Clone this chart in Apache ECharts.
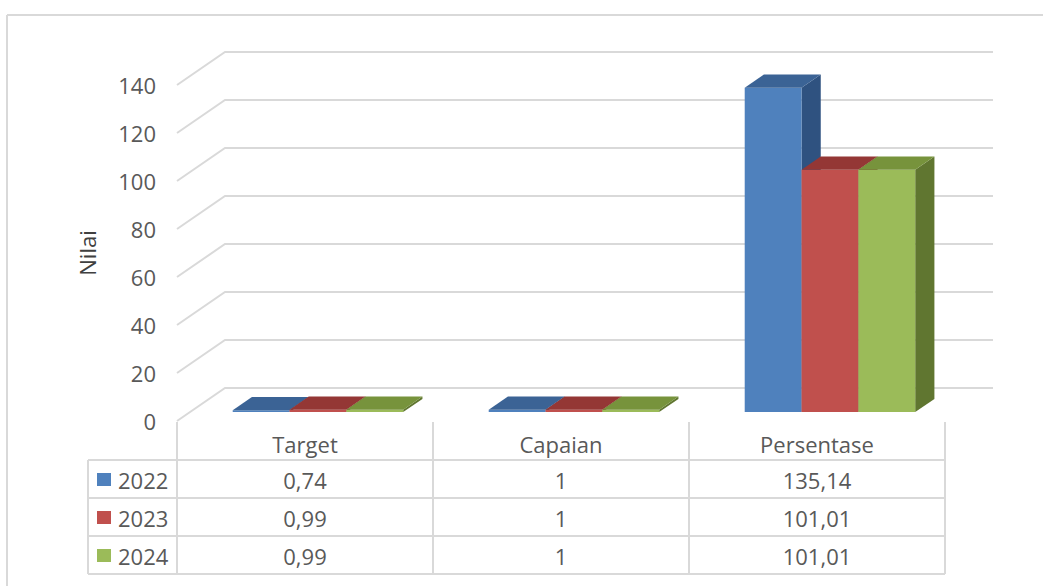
<!DOCTYPE html>
<html>
<head>
<meta charset="utf-8">
<style>
  html, body { margin: 0; padding: 0; background: #fff; }
  #chart { width: 1043px; height: 586px; }
</style>
<script src="https://cdn.jsdelivr.net/npm/echarts@6/dist/echarts.min.js"></script>
</head>
<body>
<div id="chart"></div>
<script>
// data
const categories = ['Target', 'Capaian', 'Persentase'];
const years = ['2022', '2023', '2024'];
const values2022 = [0.74, 1, 135.14];
const values2023 = [0.99, 1, 101.01];
const values2024 = [0.99, 1, 101.01];
const yTicks = [0, 20, 40, 60, 80, 100, 120, 140];

const seriesValues = [values2022, values2023, values2024];
const faceColors = [
  { front: '#4f81bd', top: '#3b6395', side: '#2f5280' },
  { front: '#c0504d', top: '#943735', side: '#7a2c2a' },
  { front: '#9bbb59', top: '#77933c', side: '#607630' }
];

const FONT = '"Open Sans", "Noto Sans", sans-serif';
const TEXT = '#595959';
const LINE = '#d9d9d9';
// oblique depth of the plot floor
const DEPTH_X = 48;
const DEPTH_Y = -33;
const BAR_FRONT = 0.27;
const BAR_BACK = 0.67;

const fmt = v => String(v).replace('.', ',');

const chart = echarts.init(document.getElementById('chart'), null, { renderer: 'svg' });

const renderGrid = (params, api) => {
  const y = api.coord([0, api.value(1)])[1];
  const cs = params.coordSys;
  return {
    type: 'polyline',
    shape: { points: [[cs.x, y], [cs.x + DEPTH_X, y + DEPTH_Y], [cs.x + cs.width + DEPTH_X, y + DEPTH_Y]] },
    style: { stroke: LINE, lineWidth: 2, fill: null },
    silent: true
  };
};

const renderBar = s => (params, api) => {
  const cat = api.value(0);
  const base = api.coord([cat, 0]);
  const top = api.coord([cat, api.value(1)]);
  const band = api.size([1, 0])[0];
  const bw = band * 0.222;
  const cx = base[0] + (s - 1) * bw;
  const ox = DEPTH_X * BAR_FRONT, oy = DEPTH_Y * BAR_FRONT;
  const dx = DEPTH_X * (BAR_BACK - BAR_FRONT), dy = DEPTH_Y * (BAR_BACK - BAR_FRONT);
  const xl = cx - bw / 2 + ox, xr = cx + bw / 2 + ox;
  const yt = top[1] + oy, yb = base[1] + oy;
  const c = faceColors[s];
  return {
    type: 'group',
    children: [
      { type: 'polygon', shape: { points: [[xr, yt], [xr + dx, yt + dy], [xr + dx, yb + dy], [xr, yb]] }, style: { fill: c.side } },
      { type: 'rect', shape: { x: xl, y: yt, width: xr - xl, height: yb - yt }, style: { fill: c.front } },
      { type: 'polygon', shape: { points: [[xl, yt], [xl + dx, yt + dy], [xr + dx, yt + dy], [xr, yt]] }, style: { fill: c.top } }
    ]
  };
};

// data table under the plot, one column per category
const ROW_TOP = 460;
const ROW_H = 38;
const renderTable = (params, api) => {
  const cat = api.value(0);
  const cx = api.coord([cat, 0])[0];
  const band = api.size([1, 0])[0];
  const right = cx + band / 2;
  const children = [
    { type: 'text', style: { x: cx, y: 444, text: categories[cat], fill: TEXT, font: '22px ' + FONT, align: 'center', verticalAlign: 'middle' } },
    { type: 'line', shape: { x1: right, y1: 422, x2: right, y2: ROW_TOP + ROW_H * 3 }, style: { stroke: LINE, lineWidth: 2 } }
  ];
  if (cat === 0) {
    const left = cx - band / 2;
    children.push({ type: 'line', shape: { x1: left, y1: 422, x2: left, y2: ROW_TOP + ROW_H * 3 }, style: { stroke: LINE, lineWidth: 2 } });
  }
  seriesValues.forEach((vals, r) => {
    children.push({
      type: 'text',
      style: { x: cx, y: ROW_TOP + ROW_H * r + ROW_H / 2 + 1, text: fmt(vals[cat]), fill: TEXT, font: '22px ' + FONT, align: 'center', verticalAlign: 'middle' }
    });
  });
  return { type: 'group', children };
};

const graphics = [
  { type: 'line', shape: { x1: 7, y1: 15, x2: 1043, y2: 15 }, style: { stroke: LINE, lineWidth: 2 } },
  { type: 'line', shape: { x1: 7, y1: 15, x2: 7, y2: 586 }, style: { stroke: LINE, lineWidth: 2 } },
  { type: 'line', shape: { x1: 88, y1: ROW_TOP, x2: 88, y2: ROW_TOP + ROW_H * 3 }, style: { stroke: LINE, lineWidth: 2 } },
  {
    type: 'text', x: 87, y: 253, rotation: Math.PI / 2,
    style: { text: 'Nilai', fill: '#404040', font: '22px ' + FONT, align: 'center', verticalAlign: 'middle' }
  }
];
for (let r = 0; r <= 3; r++) {
  graphics.push({ type: 'line', shape: { x1: 88, y1: ROW_TOP + ROW_H * r, x2: 945, y2: ROW_TOP + ROW_H * r }, style: { stroke: LINE, lineWidth: 2 } });
}
years.forEach((yr, r) => {
  const cy = ROW_TOP + ROW_H * r + ROW_H / 2;
  graphics.push({ type: 'rect', shape: { x: 97, y: cy - 6, width: 14, height: 13 }, style: { fill: faceColors[r].front } });
  graphics.push({ type: 'text', style: { x: 118, y: cy + 1, text: yr, fill: TEXT, font: '22px ' + FONT, verticalAlign: 'middle' } });
});

const option = {
  animation: false,
  grid: { left: 177, width: 768, top: 85, bottom: 165 },
  xAxis: {
    type: 'category',
    data: categories,
    axisLine: { show: false },
    axisTick: { show: false },
    axisLabel: { show: false }
  },
  yAxis: {
    type: 'value',
    min: 0,
    max: 140,
    interval: 20,
    axisLine: { show: false },
    axisTick: { show: false },
    splitLine: { show: false },
    axisLabel: { margin: 21, color: TEXT, fontSize: 22, fontFamily: FONT }
  },
  graphic: graphics,
  series: [
    {
      type: 'custom',
      name: 'grid',
      z: 1,
      renderItem: renderGrid,
      data: yTicks.map(v => [0, v])
    },
    ...years.map((yr, s) => ({
      type: 'custom',
      name: yr,
      z: 2 + s,
      renderItem: renderBar(s),
      data: seriesValues[s].map((v, i) => [i, v])
    })),
    {
      type: 'custom',
      name: 'table',
      z: 6,
      renderItem: renderTable,
      data: categories.map((c, i) => [i, 0])
    }
  ]
};

chart.setOption(option);
</script>
</body>
</html>
